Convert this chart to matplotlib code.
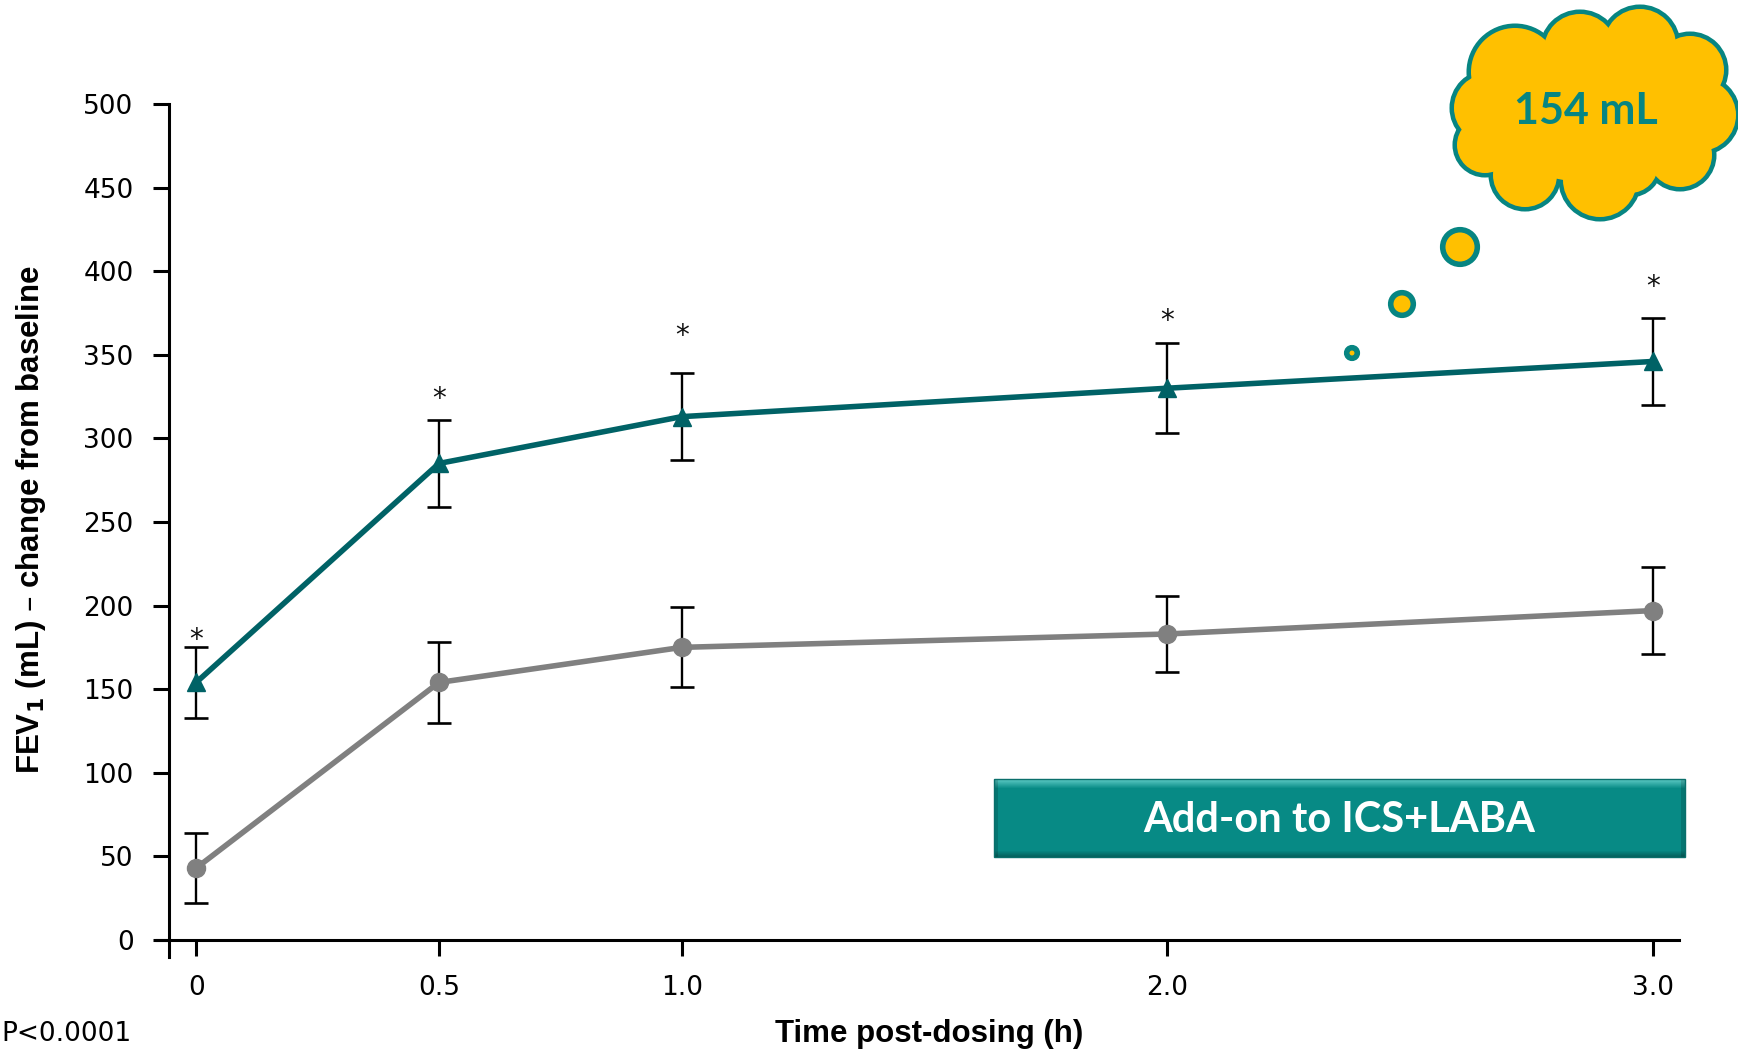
import matplotlib
matplotlib.use("Agg")
import matplotlib.pyplot as plt
import numpy as np
from matplotlib.colors import to_rgb
from matplotlib.patches import Circle, Ellipse, Rectangle

# FEV1 change from baseline (mL) by time post-dosing
time_h = [0, 0.5, 1.0, 2.0, 3.0]
time_labels = ["0", "0.5", "1.0", "2.0", "3.0"]
addon_mean = [154, 285, 313, 330, 346]
addon_err = [21, 26, 26, 27, 26]
ctrl_mean = [43, 154, 175, 183, 197]
ctrl_err = [21, 24, 24, 23, 26]
star_y = [183, 327, 365, 374, 394]
y_ticks = [0, 50, 100, 150, 200, 250, 300, 350, 400, 450, 500]

TEAL_LINE = "#006266"
TEAL = "#078582"
GOLD = "#FFC000"
W, H = 1738, 1055

fig = plt.figure(figsize=(W / 100, H / 100), dpi=100)
ax = fig.add_axes([157 / W, 1 - 957 / H, (1679 - 157) / W, (957 - 104) / H])

ax.errorbar(time_h, ctrl_mean, yerr=ctrl_err, fmt="none", ecolor="black",
            elinewidth=1.7, capsize=8.5, capthick=1.9, zorder=2)
ax.errorbar(time_h, addon_mean, yerr=addon_err, fmt="none", ecolor="black",
            elinewidth=1.7, capsize=8.5, capthick=1.9, zorder=2)
ax.plot(time_h, ctrl_mean, color="#808080", lw=4, marker="o", ms=13, zorder=3)
ax.plot(time_h, addon_mean, color=TEAL_LINE, lw=4, marker="^", ms=13, zorder=4)

for x, y in zip(time_h, star_y):
    ax.annotate("*", (x, y), xytext=(0, -10), textcoords="offset points",
                ha="center", va="baseline", fontsize=20, color="#111111")

ax.set_xlim(-0.0807, 3.054)
ax.set_ylim(-10.2, 500)
ax.spines["left"].set_position(("data", -0.056))
ax.spines["bottom"].set_position(("data", 0))
ax.spines["top"].set_visible(False)
ax.spines["right"].set_visible(False)
for s in ("left", "bottom"):
    ax.spines[s].set_linewidth(2.2)
ax.set_xticks(time_h)
ax.set_xticklabels(time_labels)
ax.set_yticks(y_ticks)
ax.tick_params(axis="both", direction="out", length=11.5, width=2.2,
               labelsize=19, colors="black")
ax.tick_params(axis="x", pad=14)
ax.tick_params(axis="y", pad=14)

fig.text(31 / W, 1 - 520 / H, r"FEV$_{\mathbf{1}}$ (mL) – change from baseline",
         rotation=90, ha="center", va="center", fontsize=22.5,
         fontweight="bold", family="Liberation Sans")
fig.text(929 / W, 1 - 1034 / H, "Time post-dosing (h)", ha="center", va="center",
         fontsize=22.5, fontweight="bold", family="Liberation Sans")
fig.text(1 / W, 1 - 1034 / H, "P<0.0001", ha="left", va="center", fontsize=19)

# overlay in pixel coordinates for the callouts
ov = fig.add_axes([0, 0, 1, 1])
ov.axis("off")

# Add-on box with a soft bevel
bx, by, bw, bh = 994, 779, 691, 78
main, light, dark = (np.array(to_rgb(c)) for c in ("#078A85", "#5CCAC5", "#05625E"))
rows = []
for i in range(bh):
    if i < 9:
        t = i / 9
        rows.append(light * (1 - t) + main * t)
    elif i > bh - 7:
        t = (i - (bh - 7)) / 6
        rows.append(main * (1 - t) + dark * t)
    else:
        rows.append(main)
grad = np.array(rows)[:, None, :].repeat(bw, axis=1)
grad[:, :4, :] *= 0.85
grad[:, -4:, :] *= 0.85
ov.imshow(grad, extent=(bx, bx + bw, by + bh, by), aspect="auto",
          interpolation="nearest", zorder=1)
ov.add_patch(Rectangle((bx, by), bw, bh, fc="none", ec="#0A6F6B", lw=1, zorder=2))
ov.text(bx + bw / 2, by + bh / 2 + 2, "Add-on to ICS+LABA", ha="center", va="center",
        color="white", fontsize=30, fontweight="bold", family="Lato", zorder=3)

# cloud
bumps = [
    (1515, 72, 44), (1580, 50, 36), (1640, 45, 36), (1690, 70, 34),
    (1700, 115, 36), (1680, 155, 32), (1630, 165, 28), (1600, 180, 37),
    (1525, 175, 32), (1485, 145, 28), (1488, 108, 34),
]
for cx, cy, r in bumps:
    ov.add_patch(Circle((cx, cy), r, fc="none", ec=TEAL, lw=6.5, zorder=1))
for cx, cy, r in bumps:
    ov.add_patch(Circle((cx, cy), r, fc=GOLD, ec="none", zorder=2))
ov.add_patch(Ellipse((1595, 113), 220, 140, fc=GOLD, ec="none", zorder=2))
ov.text(1586, 111, "154 mL", ha="center", va="center", color=TEAL,
        fontsize=31, fontweight="bold", family="Lato", zorder=3)

# thought bubbles
for cx, cy, r in [(1352, 353, 5.3), (1402, 304, 11.3), (1460, 247, 17.3)]:
    ov.add_patch(Circle((cx, cy), r, fc=GOLD, ec=TEAL, lw=4, zorder=2))

ov.set_xlim(0, W)
ov.set_ylim(H, 0)

fig.savefig("out.png", dpi=100)
